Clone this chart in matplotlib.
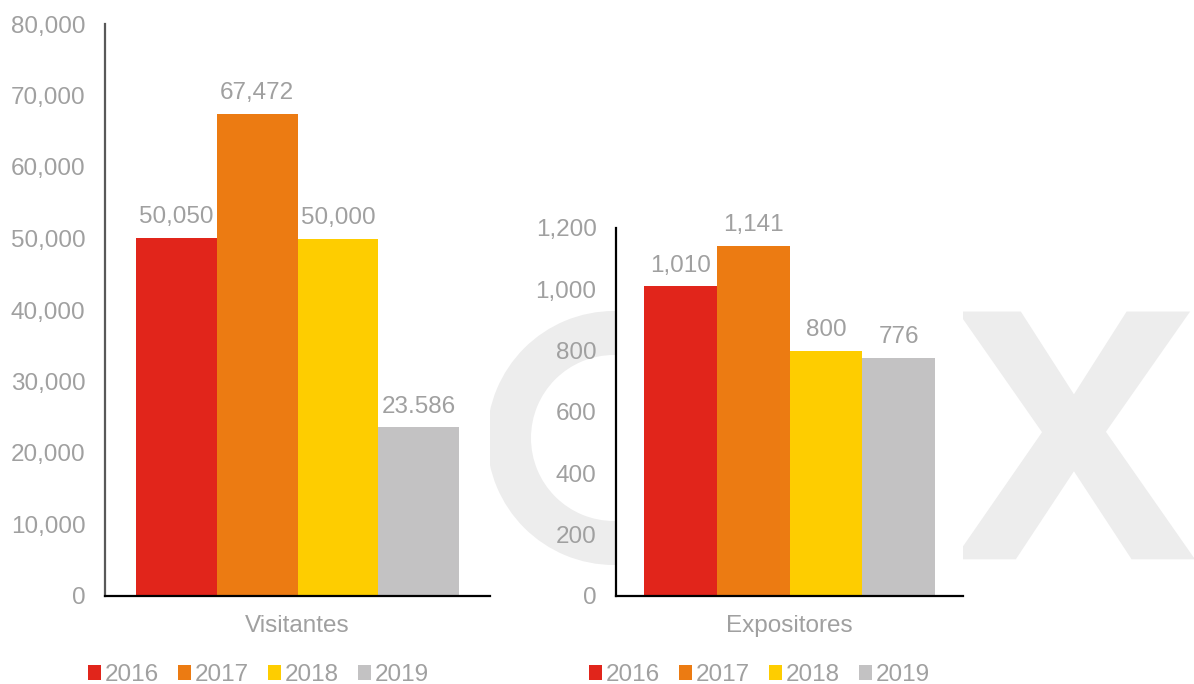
import matplotlib
matplotlib.use('Agg')
import matplotlib.pyplot as plt
import matplotlib.patheffects as pe
from matplotlib.patches import Patch, Wedge
from matplotlib.ticker import FuncFormatter
import numpy as np

plt.rcParams['font.family'] = ['Liberation Sans', 'DejaVu Sans']

# Datos
anios = ['2016', '2017', '2018', '2019']
colores = ['#E1251B', '#EC7B12', '#FECD00', '#C3C2C3']
visitantes = [50050, 67472, 50000, 23586]
visitantes_etiquetas = ['50,050', '67,472', '50,000', '23.586']
expositores = [1010, 1141, 800, 776]
expositores_etiquetas = ['1,010', '1,141', '800', '776']

gris_texto = '#A0A0A0'
gris_marca = '#EDEDED'
fs = 17.5

fig = plt.figure(figsize=(11.94, 6.84), dpi=100)

# Marca de agua "cx" (detras de los ejes)
fig.add_artist(Wedge((6.14, 2.46), 1.27, 0, 360, width=0.44, facecolor=gris_marca,
                     edgecolor='none', transform=fig.dpi_scale_trans, zorder=-1))
fig.text(965 / 1194, 1 - 551 / 684, 'x', fontsize=315, color=gris_marca,
         ha='left', va='baseline', zorder=-1,
         path_effects=[pe.withStroke(linewidth=12, foreground=gris_marca, joinstyle='miter')])

ax1 = fig.add_axes([105 / 1194, 1 - 596 / 684, 385 / 1194, 572 / 684])
ax2 = fig.add_axes([616 / 1194, 1 - 596 / 684, 347 / 1194, 368 / 684])


def graficar(ax, valores, etiquetas, categoria, ymax, paso, color_eje):
    ancho = 0.21
    desplaz = (np.arange(len(anios)) - 1.5) * ancho
    for i in range(len(anios)):
        barras = ax.bar(desplaz[i], valores[i], width=ancho, color=colores[i], label=anios[i])
        ax.bar_label(barras, labels=[etiquetas[i]], padding=7, color=gris_texto, fontsize=fs)
    ax.set_xlim(-0.5, 0.5)
    ax.set_ylim(0, ymax)
    ax.set_yticks(np.arange(0, ymax + 1, paso))
    ax.yaxis.set_major_formatter(FuncFormatter(lambda v, p: f'{v:,.0f}'))
    ax.set_xticks([0])
    ax.set_xticklabels([categoria])
    ax.tick_params(axis='both', length=0, colors=gris_texto, labelsize=fs)
    ax.tick_params(axis='y', pad=14)
    ax.tick_params(axis='x', pad=14)
    for s in ['top', 'right']:
        ax.spines[s].set_visible(False)
    ax.spines['left'].set_color(color_eje)
    ax.spines['left'].set_linewidth(1.6)
    ax.spines['bottom'].set_color('#000000')
    ax.spines['bottom'].set_linewidth(1.6)
    ax.set_facecolor('white')


graficar(ax1, visitantes, visitantes_etiquetas, 'Visitantes', 80000, 10000, '#595959')
graficar(ax2, expositores, expositores_etiquetas, 'Expositores', 1200, 200, '#000000')

handles = [Patch(facecolor=c, edgecolor='none') for c in colores]
for x0 in [88 / 1194, 589 / 1194]:
    fig.legend(handles, anios, loc='center left', bbox_to_anchor=(x0, 1 - 675 / 684),
               ncol=4, frameon=False, fontsize=fs, labelcolor=gris_texto,
               handlelength=0.53, handleheight=0.53, handletextpad=0.17,
               columnspacing=0.78, borderpad=0, borderaxespad=0)

fig.savefig('out.png', dpi=100)
